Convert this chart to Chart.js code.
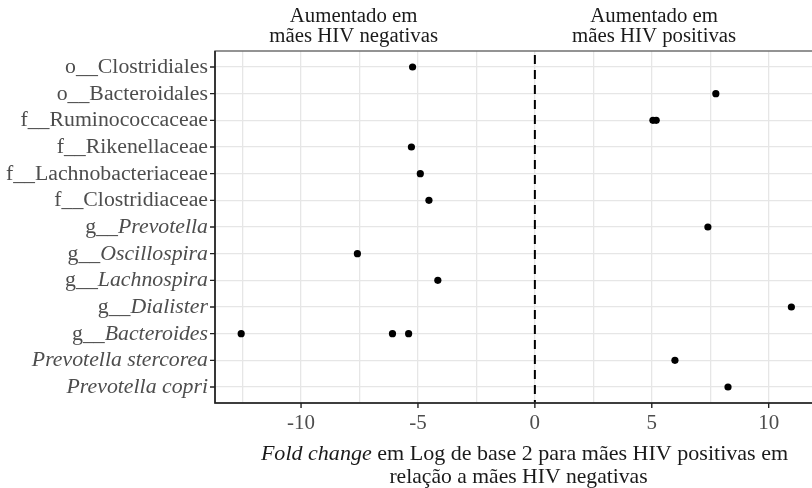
<!DOCTYPE html>
<html lang="pt">
<head>
    <meta charset="UTF-8">
    <title>Fold change HIV</title>
    <script src="https://cdn.jsdelivr.net/npm/chart.js"></script>
    <style>
        html, body {
            margin: 0;
            padding: 0;
            background: #fff;
            overflow: hidden;
        }
        #wrap {
            width: 830px;
            height: 488px;
        }
    </style>
</head>
<body>
    <div id="wrap">
        <canvas id="chart" width="830" height="488"></canvas>
    </div>
    <script>
        // row labels, top to bottom
        const prefixes = ['o__', 'o__', 'f__', 'f__', 'f__', 'f__', 'g__', 'g__', 'g__', 'g__', 'g__', '', ''];
        const taxa = ['Clostridiales', 'Bacteroidales', 'Ruminococcaceae', 'Rikenellaceae', 'Lachnobacteriaceae',
            'Clostridiaceae', 'Prevotella', 'Oscillospira', 'Lachnospira', 'Dialister', 'Bacteroides',
            'Prevotella stercorea', 'Prevotella copri'];
        const italicTaxa = [false, false, false, false, false, false, true, true, true, true, true, true, true];

        // log2 fold change per row (some rows have more than one point)
        const foldChange = [[-5.23], [7.74], [5.05, 5.19], [-5.28], [-4.9], [-4.53], [7.4], [-7.59], [-4.15],
            [10.97], [-12.56, -6.09, -5.4], [5.99], [8.26]];

        const xTicks = [-10, -5, 0, 5, 10];
        const xMinorTicks = [-12.5, -7.5, -2.5, 2.5, 7.5];
        const xRange = [-13.68, 12.28];

        const groupLabels = [
            { x: -7.75, lines: ['Aumentado em', 'mães HIV negativas'] },
            { x: 5.1, lines: ['Aumentado em', 'mães HIV positivas'] }
        ];

        const FONT = "'Liberation Serif', 'DejaVu Serif', serif";

        const points = foldChange.flatMap((vals, i) => vals.map(v => ({ x: v, y: i + 1 })));

        function drawParts(ctx, parts, x, y, align, size, sx) {
            let w = 0;
            parts.forEach(p => {
                ctx.font = (p.italic ? 'italic ' : '') + size + 'px ' + FONT;
                w += ctx.measureText(p.text).width;
            });
            let start = x;
            if (align === 'right') start = x - w * sx;
            if (align === 'center') start = x - w * sx / 2;
            ctx.save();
            ctx.translate(start, y);
            ctx.scale(sx, 1);
            ctx.textAlign = 'left';
            ctx.textBaseline = 'alphabetic';
            let cx = 0;
            parts.forEach(p => {
                ctx.font = (p.italic ? 'italic ' : '') + size + 'px ' + FONT;
                ctx.fillText(p.text, cx, 0);
                cx += ctx.measureText(p.text).width;
            });
            ctx.restore();
        }

        const decorPlugin = {
            id: 'decor',
            beforeDatasetsDraw(chart) {
                const ctx = chart.ctx;
                const a = chart.chartArea;
                const xs = chart.scales.x;
                ctx.save();
                // dashed zero line
                ctx.strokeStyle = '#000';
                ctx.lineWidth = 2;
                ctx.setLineDash([9, 6]);
                ctx.beginPath();
                ctx.moveTo(xs.getPixelForValue(0), a.top + 4);
                ctx.lineTo(xs.getPixelForValue(0), a.bottom);
                ctx.stroke();
                ctx.setLineDash([]);
                // panel border
                ctx.strokeStyle = '#666';
                ctx.lineWidth = 1.4;
                ctx.strokeRect(a.left, a.top, a.right - a.left, a.bottom - a.top);
                ctx.restore();
            },
            afterDraw(chart) {
                const ctx = chart.ctx;
                const a = chart.chartArea;
                const xs = chart.scales.x;
                const ys = chart.scales.y;
                ctx.save();
                // axis lines
                ctx.strokeStyle = '#222';
                ctx.lineWidth = 1.6;
                ctx.beginPath();
                ctx.moveTo(a.left, a.top);
                ctx.lineTo(a.left, a.bottom);
                ctx.lineTo(a.right, a.bottom);
                ctx.stroke();
                // tick marks
                ctx.lineWidth = 1.4;
                ctx.beginPath();
                taxa.forEach((t, i) => {
                    const py = ys.getPixelForValue(i + 1);
                    ctx.moveTo(a.left - 5, py);
                    ctx.lineTo(a.left, py);
                });
                xTicks.forEach(v => {
                    const px = xs.getPixelForValue(v);
                    ctx.moveTo(px, a.bottom);
                    ctx.lineTo(px, a.bottom + 5);
                });
                ctx.stroke();

                // y labels
                ctx.fillStyle = '#4d4d4d';
                taxa.forEach((t, i) => {
                    const py = ys.getPixelForValue(i + 1) + 6;
                    const parts = [];
                    if (prefixes[i]) parts.push({ text: prefixes[i], italic: false });
                    parts.push({ text: t, italic: italicTaxa[i] });
                    drawParts(ctx, parts, a.left - 7, py, 'right', 20, 1.09);
                });
                // x labels
                xTicks.forEach(v => {
                    drawParts(ctx, [{ text: String(v), italic: false }], xs.getPixelForValue(v), a.bottom + 26, 'center', 20, 1.05);
                });

                // axis title
                ctx.fillStyle = '#1a1a1a';
                const mid = (a.left + a.right) / 2;
                drawParts(ctx, [
                    { text: 'Fold change', italic: true },
                    { text: ' em Log de base 2 para mães HIV positivas em', italic: false }
                ], mid + 6, a.bottom + 57, 'center', 21, 1.05);
                drawParts(ctx, [{ text: 'relação a mães HIV negativas', italic: false }], mid, a.bottom + 80, 'center', 21, 1.03);

                // group labels above panel
                groupLabels.forEach(g => {
                    const px = xs.getPixelForValue(g.x);
                    drawParts(ctx, [{ text: g.lines[0], italic: false }], px, 22, 'center', 20, 1.04);
                    drawParts(ctx, [{ text: g.lines[1], italic: false }], px, 42, 'center', 20, 1.04);
                });
                ctx.restore();
            }
        };

        new Chart(document.getElementById('chart'), {
            type: 'scatter',
            data: {
                datasets: [{
                    data: points,
                    backgroundColor: '#000',
                    borderColor: '#000',
                    borderWidth: 0,
                    pointRadius: 3.6,
                    pointHoverRadius: 3.6
                }]
            },
            options: {
                responsive: false,
                animation: false,
                devicePixelRatio: 1,
                layout: {
                    padding: { left: 215, top: 51, right: 8, bottom: 85 }
                },
                plugins: {
                    legend: { display: false },
                    tooltip: { enabled: false }
                },
                scales: {
                    x: {
                        type: 'linear',
                        min: xRange[0],
                        max: xRange[1],
                        afterBuildTicks: s => {
                            s.ticks = xTicks.concat(xMinorTicks).map(v => ({ value: v }));
                        },
                        afterFit: s => { s.height = 0; },
                        ticks: { display: false },
                        border: { display: false },
                        grid: { color: '#e6e6e6', lineWidth: 1.3, drawTicks: false }
                    },
                    y: {
                        type: 'linear',
                        reverse: true,
                        min: 0.4,
                        max: taxa.length + 0.6,
                        afterBuildTicks: s => {
                            s.ticks = taxa.map((t, i) => ({ value: i + 1 }));
                        },
                        afterFit: s => { s.width = 0; },
                        ticks: { display: false },
                        border: { display: false },
                        grid: { color: '#e6e6e6', lineWidth: 1.3, drawTicks: false }
                    }
                }
            },
            plugins: [decorPlugin]
        });
    </script>
</body>
</html>
